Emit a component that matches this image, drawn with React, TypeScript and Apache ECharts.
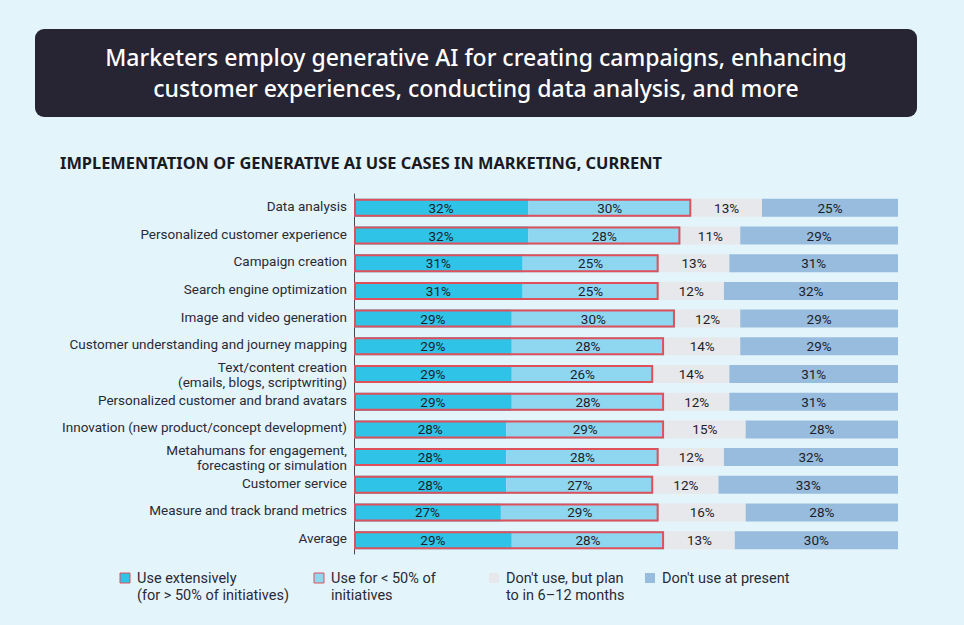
import React, { useEffect, useRef } from "react";
import * as echarts from "echarts";

const categories = [
  "Data analysis",
  "Personalized customer experience",
  "Campaign creation",
  "Search engine optimization",
  "Image and video generation",
  "Customer understanding and journey mapping",
  "Text/content creation\n(emails, blogs, scriptwriting)",
  "Personalized customer and brand avatars",
  "Innovation (new product/concept development)",
  "Metahumans for engagement,\nforecasting or simulation",
  "Customer service",
  "Measure and track brand metrics",
  "Average",
];
const useExtensively = [32, 32, 31, 31, 29, 29, 29, 29, 28, 28, 28, 27, 29];
const useLess50 = [30, 28, 25, 25, 30, 28, 26, 28, 29, 28, 27, 29, 28];
const planToUse = [13, 11, 13, 12, 12, 14, 14, 12, 15, 12, 12, 16, 13];
const dontUse = [25, 29, 31, 32, 29, 29, 31, 31, 28, 32, 33, 28, 30];

const seriesNames = [
  "Use extensively\n(for > 50% of initiatives)",
  "Use for < 50% of\ninitiatives",
  "Don't use, but plan\nto in 6–12 months",
  "Don't use at present",
];

const titleLines = [
  "Marketers employ generative AI for creating campaigns, enhancing",
  "customer experiences, conducting data analysis, and more",
];
const subtitle = "IMPLEMENTATION OF GENERATIVE AI USE CASES IN MARKETING, CURRENT";

const FONT = "Roboto, 'Noto Sans', sans-serif";
const TITLE_FONT = "'Noto Sans', 'Open Sans', sans-serif";
const COLORS = ["#2ec3e7", "#8fd7f1", "#e7e8ec", "#97bcde"];
const RED = "#e0505a";

export default function App() {
  const ref = useRef<HTMLDivElement>(null);
  useEffect(() => {
    if (!ref.current) return;
    const chart = echarts.init(ref.current, undefined, { renderer: "svg" });
    const valueSets = [useExtensively, useLess50, planToUse, dontUse];
    const stackSeries = valueSets.map((vals, i) => ({
      name: seriesNames[i],
      type: "bar",
      stack: "total",
      barWidth: 18,
      barGap: "-100%",
      data: vals,
      itemStyle: { color: COLORS[i] },
      label: {
        show: true,
        position: "inside",
        formatter: "{c}%",
        color: "#1d1d2b",
        fontSize: 13.5,
        fontFamily: FONT,
      },
      emphasis: { disabled: true },
    }));
    const outline = {
      name: "outline",
      type: "bar",
      stack: "outline",
      barWidth: 18,
      barGap: "-100%",
      z: 5,
      data: useExtensively.map((v, i) => v + useLess50[i]),
      itemStyle: { color: "rgba(0,0,0,0)", borderColor: RED, borderWidth: 2 },
      label: { show: false },
      emphasis: { disabled: true },
      silent: true,
    };

    const legendX = [120, 314, 489, 645];
    const legendGraphics: any[] = [];
    seriesNames.forEach((n, i) => {
      legendGraphics.push({
        type: "rect",
        shape: { x: legendX[i], y: 573, width: 10, height: 10 },
        style: {
          fill: COLORS[i],
          stroke: i < 2 ? RED : null,
          lineWidth: i < 2 ? 1 : 0,
        },
      });
      legendGraphics.push({
        type: "text",
        x: legendX[i] + 17,
        y: 569.5,
        style: {
          text: n,
          fill: "#2a2a36",
          font: `14.5px ${FONT}`,
          lineHeight: 17,
          textVerticalAlign: "top",
        },
      });
    });

    chart.setOption({
      animation: false,
      backgroundColor: "#e4f4fb",
      grid: { left: 354, right: 66, top: 194, height: 360 },
      xAxis: { type: "value", min: 0, max: 100, show: false },
      yAxis: {
        type: "category",
        inverse: true,
        data: categories,
        axisLine: { show: true, lineStyle: { color: "#4a4a4a", width: 1 } },
        axisTick: { show: false },
        axisLabel: {
          margin: 7,
          color: "#2a2a36",
          fontSize: 13.5,
          fontFamily: FONT,
          lineHeight: 15,
          formatter: (v: string) => (v.includes("\n") ? v : `{s|${v}}`),
          rich: {
            s: {
              fontSize: 13.5,
              fontFamily: FONT,
              color: "#2a2a36",
              padding: [0, 0, 4, 0],
            },
          },
        },
      },
      series: [...stackSeries, outline],
      graphic: [
        {
          type: "rect",
          shape: { x: 35, y: 29, width: 882, height: 88, r: 9 },
          style: { fill: "#272433" },
        },
        {
          type: "text",
          x: 476,
          y: 72,
          style: {
            text: titleLines.join("\n"),
            fill: "#ffffff",
            font: `500 23px ${TITLE_FONT}`,
            lineHeight: 31,
            textAlign: "center",
            textVerticalAlign: "middle",
          },
        },
        {
          type: "text",
          x: 60,
          y: 162,
          style: {
            text: subtitle,
            fill: "#1a1a22",
            font: `bold 16.4px ${TITLE_FONT}`,
            textVerticalAlign: "middle",
          },
        },
        ...legendGraphics,
      ],
    });
    return () => chart.dispose();
  }, []);
  return (
    <div
      ref={ref}
      style={{ position: "fixed", left: 0, top: 0, width: 964, height: 625 }}
    />
  );
}
